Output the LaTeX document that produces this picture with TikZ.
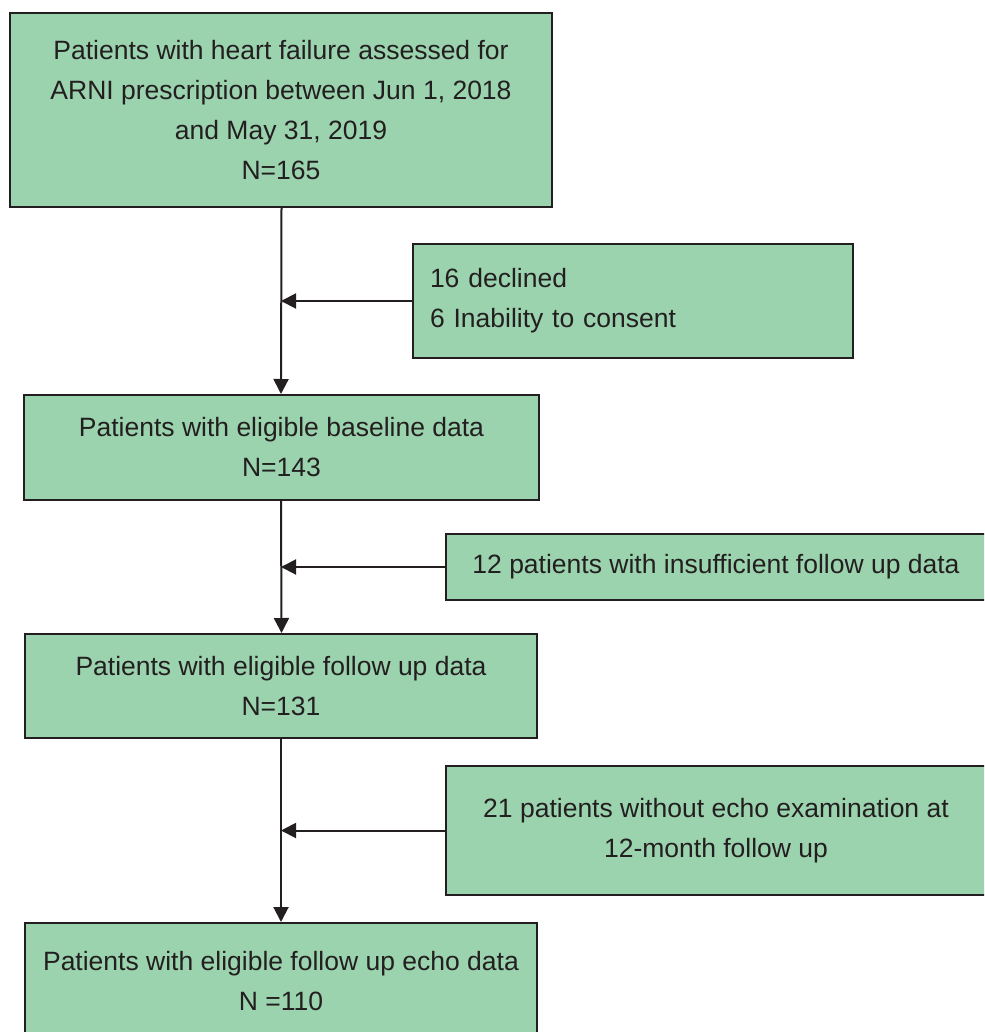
\documentclass[tikz,border=0pt]{standalone}
\usepackage{fontspec}
\setmainfont{Liberation Sans}
\usetikzlibrary{arrows.meta}
\definecolor{boxgreen}{HTML}{9BD3AE}
\definecolor{ink}{HTML}{231F20}

\begin{document}
\begin{tikzpicture}[x=1pt, y=-1pt, align=center,
	main/.style = {draw=ink, fill=boxgreen, line width=2pt, inner sep=0pt, text=ink, font=\fontsize{26.5}{40}\selectfont},
	flow/.style = {draw=ink, line width=2pt, -{Triangle[length=15pt, width=15pt]}}]
	\useasboundingbox (0,0) rectangle (984,1032);
	\clip (0,0) rectangle (984,1032);
	\node[main, minimum width=542pt, minimum height=194pt] (1) at (281,110) {Patients with heart failure assessed for\\ARNI prescription between Jun 1, 2018\\and May 31, 2019\\N=165};
	\node[main, align=left, text width=406pt, inner xsep=17pt, minimum height=114pt] (2) at (633,301) {16 declined\\6 Inability to consent};
	\node[main, minimum width=515pt, minimum height=105pt] (3) at (281.5,447.5) {Patients with eligible baseline data\\N=143};
	\node[main, minimum width=540pt, minimum height=66pt] (4) at (716,567) {12 patients with insufficient follow up data};
	\node[main, minimum width=512pt, minimum height=104pt] (5) at (281,686) {Patients with eligible follow up data\\N=131};
	\node[main, minimum width=540pt, minimum height=129pt] (6) at (716,830.5) {21 patients without echo examination at\\12-month follow up};
	\node[main, minimum width=512pt, minimum height=116pt] (7) at (281,981) {Patients with eligible follow up echo data\\N =110};
	\coordinate (a) at (281,301);
	\coordinate (b) at (281,567);
	\coordinate (c) at (281,830.5);
	\draw[flow] (1.south -| 3.north) -- (3.north -| 1.south);
	\draw[flow] (3.south -| 5.north) -- (5.north -| 3.south);
	\draw[flow] (5.south -| 7.north) -- (7.north -| 5.south);
	\draw[flow] (2.west) -- (a);
	\draw[flow] (4.west) -- (b);
	\draw[flow] (6.west) -- (c);
\end{tikzpicture}
\end{document}
